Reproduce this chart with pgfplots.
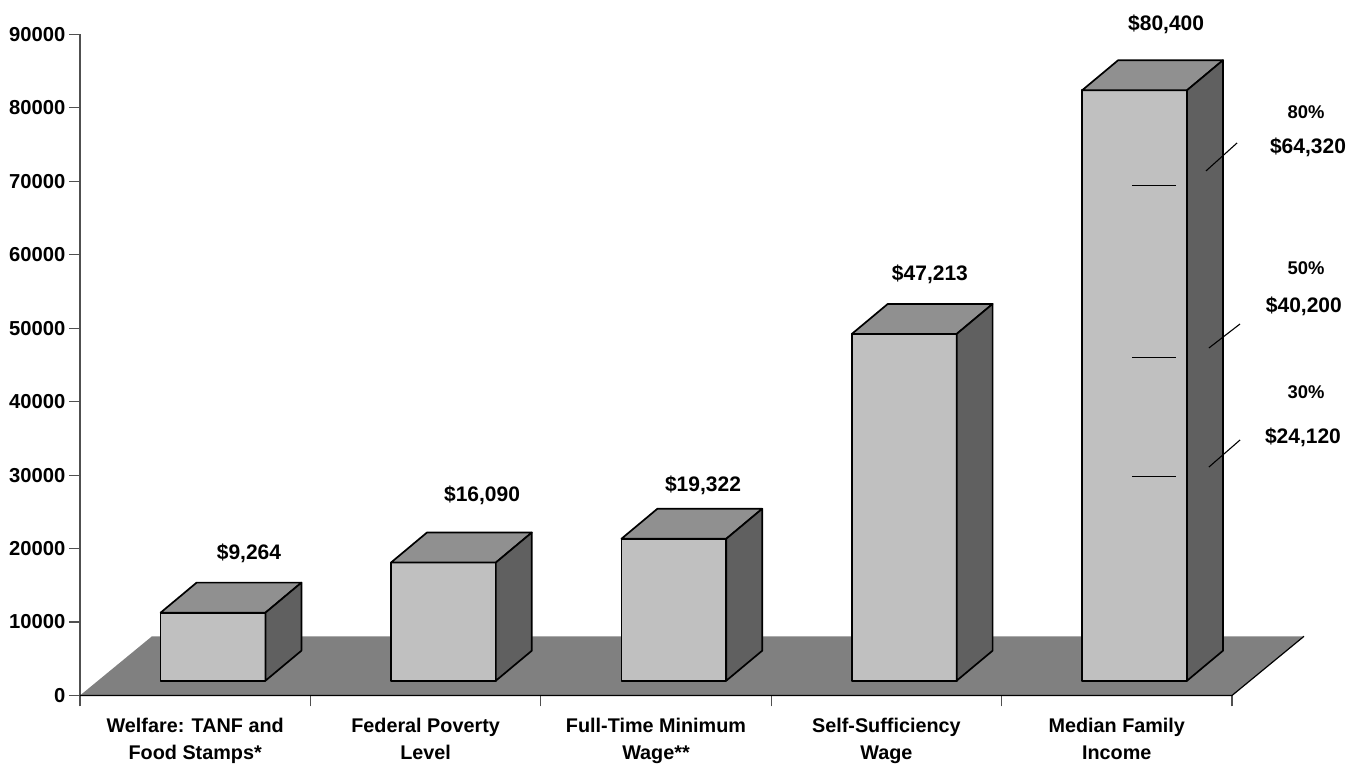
\documentclass[border=0pt]{standalone}
\usepackage{fontspec}
\setmainfont{Liberation Sans}
\usepackage{pgfplots}
\pgfplotsset{compat=1.18}
\definecolor{frontc}{HTML}{C0C0C0}
\definecolor{topc}{HTML}{909090}
\definecolor{sidec}{HTML}{606060}
\definecolor{floorc}{HTML}{808080}
\definecolor{axisc}{HTML}{505050}
% 1 px of the reference = 0.5pt; bars stand 2015 above the axis zero, so they are shifted
\tikzset{
  face/.style={draw=black,line width=0.85pt,line join=round,yshift=7.4pt},
  lab/.style={font=\fontsize{10.5}{12}\selectfont\bfseries,inner sep=0pt,yshift=-1pt},
  pct/.style={font=\fontsize{9.2}{11}\selectfont\bfseries,inner sep=0pt},
}
\begin{document}
\begin{tikzpicture}
\path[use as bounding box] (-40pt,-34.25pt) rectangle (638.5pt,347.75pt);
\begin{axis}[
  at={(0pt,0pt)},anchor=origin,
  scale only axis,width=576pt,height=330.5pt,
  xmin=0,xmax=5,ymin=0,ymax=90000,
  axis x line=bottom,axis y line=left,
  axis line style={-,draw=axisc,line width=0.55pt},
  clip=false,
  tick align=outside,
  major tick length=5.5pt,
  xtick={0,1,2,3,4,5},
  xticklabels={},
  extra x ticks={0.5,1.5,2.5,3.5,4.5},
  extra x tick labels={{Welfare: TANF and\\Food Stamps*},{Federal Poverty\\Level},{Full-Time Minimum\\Wage**},{Self-Sufficiency\\Wage},{Median Family\\Income}},
  extra x tick style={major tick length=0pt,
    tick label style={align=center,font=\fontsize{9.9}{13.5}\selectfont\bfseries,yshift=-11pt,inner sep=0pt}},
  ytick={0,10000,...,90000},
  tick style={draw=axisc,line width=0.55pt},
  yticklabel style={font=\fontsize{10.1}{12}\selectfont\bfseries,inner sep=1.6pt},
  /pgf/number format/assume math mode=true,
  /pgf/number format/1000 sep={},
  scaled y ticks=false,
]
% floor
\addplot[fill=floorc,draw=none] coordinates {(0,0)(5,0)(5.3125,8060)(0.3125,8060)} -- cycle;
\addplot[black,line width=0.6pt] coordinates {(0,0)(5,0)(5.3125,8060)};

% Welfare
\addplot[face,fill=frontc] coordinates {(0.35,0)(0.35,9264)(0.805,9264)(0.805,0)} -- cycle;
\addplot[face,fill=topc] coordinates {(0.35,9264)(0.506,13349)(0.961,13349)(0.805,9264)} -- cycle;
\addplot[face,fill=sidec] coordinates {(0.805,0)(0.805,9264)(0.961,13349)(0.961,4085)} -- cycle;
% Federal poverty level
\addplot[face,fill=frontc] coordinates {(1.35,0)(1.35,16090)(1.805,16090)(1.805,0)} -- cycle;
\addplot[face,fill=topc] coordinates {(1.35,16090)(1.506,20175)(1.961,20175)(1.805,16090)} -- cycle;
\addplot[face,fill=sidec] coordinates {(1.805,0)(1.805,16090)(1.961,20175)(1.961,4085)} -- cycle;
% Full-time minimum wage
\addplot[face,fill=frontc] coordinates {(2.35,0)(2.35,19322)(2.805,19322)(2.805,0)} -- cycle;
\addplot[face,fill=topc] coordinates {(2.35,19322)(2.506,23407)(2.961,23407)(2.805,19322)} -- cycle;
\addplot[face,fill=sidec] coordinates {(2.805,0)(2.805,19322)(2.961,23407)(2.961,4085)} -- cycle;
% Self-sufficiency wage
\addplot[face,fill=frontc] coordinates {(3.35,0)(3.35,47213)(3.805,47213)(3.805,0)} -- cycle;
\addplot[face,fill=topc] coordinates {(3.35,47213)(3.506,51298)(3.961,51298)(3.805,47213)} -- cycle;
\addplot[face,fill=sidec] coordinates {(3.805,0)(3.805,47213)(3.961,51298)(3.961,4085)} -- cycle;
% Median family income
\addplot[face,fill=frontc] coordinates {(4.35,0)(4.35,80400)(4.805,80400)(4.805,0)} -- cycle;
\addplot[face,fill=topc] coordinates {(4.35,80400)(4.506,84485)(4.961,84485)(4.805,80400)} -- cycle;
\addplot[face,fill=sidec] coordinates {(4.805,0)(4.805,80400)(4.961,84485)(4.961,4085)} -- cycle;

% income level marks
\addplot[black,line width=0.75pt] coordinates {(4.566,69450)(4.757,69450)};
\addplot[black,line width=0.75pt] coordinates {(4.566,46030)(4.757,46030)};
\addplot[black,line width=0.75pt] coordinates {(4.566,29830)(4.757,29830)};
\addplot[black,line width=0.55pt] coordinates {(4.887,71420)(5.022,75230)};
\addplot[black,line width=0.55pt] coordinates {(4.900,47320)(5.035,50590)};
\addplot[black,line width=0.55pt] coordinates {(4.900,31110)(5.035,34790)};

\node[lab] at (axis cs:0.7335,19676) {\$9,264};
\node[lab] at (axis cs:1.745,27574) {\$16,090};
\node[lab] at (axis cs:2.704,28935) {\$19,322};
\node[lab] at (axis cs:3.689,57666) {\$47,213};
\node[lab] at (axis cs:4.714,91708) {\$80,400};
\node[pct] at (axis cs:5.321,79453) {80\%};
\node[lab] at (axis cs:5.330,74959) {\$64,320};
\node[pct] at (axis cs:5.321,58211) {50\%};
\node[lab] at (axis cs:5.312,53309) {\$40,200};
\node[pct] at (axis cs:5.321,41326) {30\%};
\node[lab] at (axis cs:5.308,35471) {\$24,120};
\end{axis}
\end{tikzpicture}
\end{document}
